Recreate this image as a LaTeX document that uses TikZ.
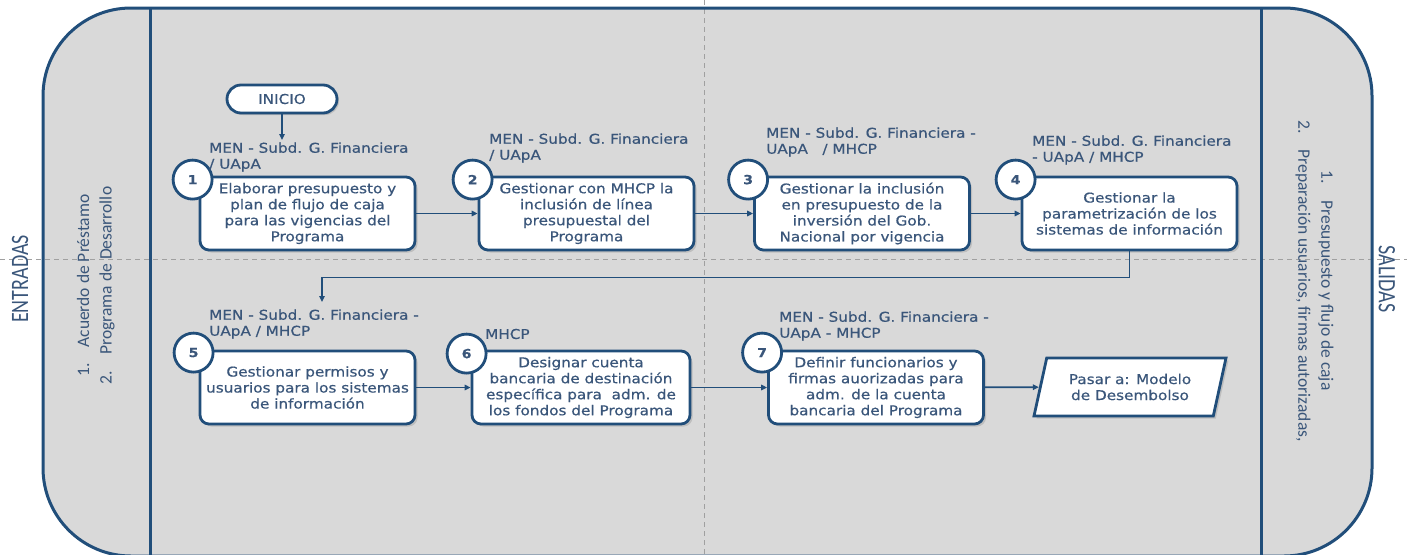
\documentclass[tikz,border=0pt]{standalone}
\usepackage{fontspec}
\setmainfont{DejaVu Sans}[FakeStretch=1.13, FakeBold=0.5]
\newfontfamily\sidefont{Carlito}
\newfontfamily\sidecond{Carlito}[FakeStretch=0.8]
\usetikzlibrary{shapes,arrows.meta,positioning,shadows}
\definecolor{lanegray}{HTML}{D9D9D9}
\definecolor{edgeblue}{RGB}{33,78,122}
\definecolor{txtblue}{RGB}{58,86,122}
\definecolor{guidegray}{RGB}{160,160,160}

\tikzset{
  procbox/.style={draw=edgeblue, line width=2.8pt, fill=white, rounded corners=9pt,
    minimum width=215pt, minimum height=73pt, align=center, text=txtblue,
    font=\fontsize{13.5}{16}\selectfont, inner sep=2pt,
    drop shadow={shadow xshift=2.5pt, shadow yshift=-2.5pt, opacity=.3}},
  stepnum/.style={circle, draw=edgeblue, line width=2.8pt, fill=white, minimum size=39pt,
    inner sep=0pt, text=txtblue, font=\fontsize{12.5}{12.5}\selectfont\bfseries},
  role/.style={anchor=west, align=left, text=txtblue, inner sep=0pt,
    font=\fontsize{13.5}{16}\selectfont},
  flow/.style={draw=edgeblue, line width=1.8pt, -{Triangle[length=6pt,width=5.5pt]}},
  sidetext/.style={text=txtblue, inner sep=0pt, font=\sidefont\fontsize{17.5}{20}\selectfont},
  sidehead/.style={text=txtblue, inner sep=0pt, font=\sidecond\fontsize{25}{25}\selectfont},
}

\begin{document}
\begin{tikzpicture}[x=1pt, y=-1pt]
\useasboundingbox (0,0) rectangle (1407,554);

\fill[lanegray, rounded corners=88pt] (43,8) rectangle (1372,556);
\draw[guidegray, dashed, dash pattern=on 5pt off 4pt, line width=0.8pt] (0,259) -- (1407,259);
\draw[guidegray, dashed, dash pattern=on 5pt off 4pt, line width=0.8pt] (704,0) -- (704,554);
\draw[edgeblue, line width=3pt, rounded corners=88pt] (43,8) rectangle (1372,556);
\draw[edgeblue, line width=3pt] (150,8) -- (150,556);
\draw[edgeblue, line width=3pt] (1261,8) -- (1261,556);

\node[sidehead, rotate=90] (entradas) at (20,279) {ENTRADAS};
\node[sidetext, rotate=90, anchor=west] (in-a) at (83,377) {1.\hspace{16pt}Acuerdo de Préstamo};
\node[sidetext, rotate=90, anchor=west] (in-b) at (107,385) {2.\hspace{17pt}Programa de Desarrollo};
\node[sidehead, rotate=-90] (salidas) at (1387,279) {SALIDAS};
\node[sidetext, rotate=-90, anchor=west] (out-a) at (1326,170) {1.\hspace{17pt}Presupuesto y flujo de caja};
\node[sidetext, rotate=-90, anchor=west] (out-b) at (1303,120) {2.\hspace{16pt}Preparación usuarios, firmas autorizadas,};

\node[draw=edgeblue, line width=2.8pt, fill=white, rounded corners=14pt, minimum width=110pt,
  minimum height=28pt, text=txtblue, font=\fontsize{13.5}{16}\selectfont,
  drop shadow={shadow xshift=2pt, shadow yshift=-2pt, opacity=.3}] (inicio) at (282,99) {INICIO};
\coordinate (in1) at (282,140);

\node[procbox] (b1) at (307.5,213.5) {Elaborar presupuesto y\\plan de flujo de caja\\para las vigencias del\\Programa};
\node[procbox] (b2) at (586.5,213.5) {Gestionar con MHCP la\\inclusión de línea\\presupuestal del\\Programa};
\node[procbox] (b3) at (862,213.5) {Gestionar la inclusión\\en presupuesto de la\\inversión del Gob.\\Nacional por vigencia};
\node[procbox] (b4) at (1129.5,213.5) {Gestionar la\\parametrización de los\\sistemas de información};
\node[procbox] (b5) at (307.5,387.5) {Gestionar permisos y\\usuarios para los sistemas\\de información};
\node[procbox, minimum width=218pt] (b6) at (581,387.5) {Designar cuenta\\bancaria de destinación\\específica para\ \ adm. de\\los fondos del Programa};
\node[procbox] (b7) at (876,387.5) {Definir funcionarios y\\firmas auorizadas para\\adm. de la cuenta\\bancaria del Programa};
\node[trapezium, trapezium left angle=69, trapezium right angle=111, trapezium stretches body,
  draw=edgeblue, line width=2.8pt, fill=white, minimum width=192pt, minimum height=58pt,
  align=center, text=txtblue, font=\fontsize{13.5}{16}\selectfont,
  drop shadow={shadow xshift=2.5pt, shadow yshift=-2.5pt, opacity=.3}] (pasar) at (1130,387) {Pasar a: Modelo\\de Desembolso};

\node[stepnum] (n1) at ([shift={(-6,4)}]b1.north west) {1};
\node[stepnum] (n2) at ([shift={(-5,4)}]b2.north west) {2};
\node[stepnum] (n3) at ([shift={(-5,4)}]b3.north west) {3};
\node[stepnum] (n4) at ([shift={(-5,4)}]b4.north west) {4};
\node[stepnum] (n5) at ([shift={(-5,3)}]b5.north west) {5};
\node[stepnum] (n6) at ([shift={(-4,4)}]b6.north west) {6};
\node[stepnum] (n7) at ([shift={(-5,3)}]b7.north west) {7};

\node[role] (r1) at (209,157) {MEN - Subd. G. Financiera\\/ UApA};
\node[role] (r2) at (489,148) {MEN - Subd. G. Financiera\\/ UApA};
\node[role] (r3) at (766,142) {MEN - Subd. G. Financiera -\\UApA\ \ \ / MHCP};
\node[role] (r4) at (1032,150) {MEN - Subd. G. Financiera\\- UApA / MHCP};
\node[role] (r5) at (209,324) {MEN - Subd. G. Financiera -\\UApA / MHCP};
\node[role] (r6) at (485,334) {MHCP};
\node[role] (r7) at (779,326) {MEN - Subd. G. Financiera -\\UApA - MHCP};

\coordinate (in5) at (322,302);
\draw[flow] (inicio) -- (in1);
\draw[flow] (b1) -- (b2);
\draw[flow] (b2) -- (b3);
\draw[flow] (b3) -- (b4);
\draw[flow] (b4.south) -- ++(0,26) -| (in5);
\draw[flow] (b5) -- (b6);
\draw[flow] (b6) -- (b7);
\draw[flow] (b7) -- (pasar);
\end{tikzpicture}
\end{document}
